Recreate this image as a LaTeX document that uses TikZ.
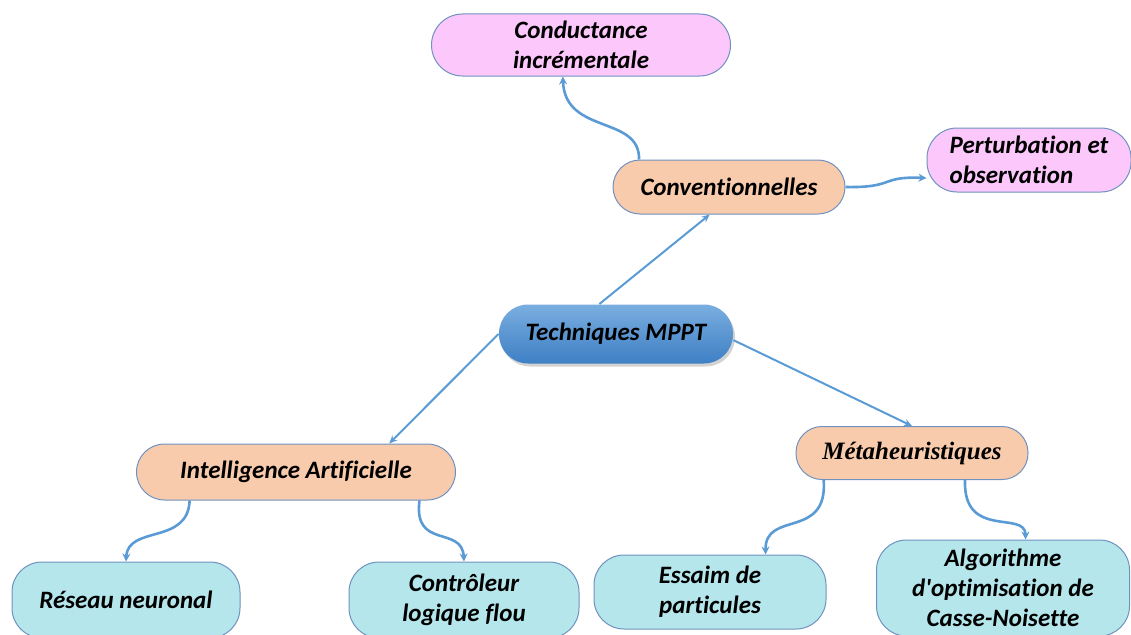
\documentclass[tikz,border=0pt]{standalone}
\usepackage{fontspec}
\setmainfont{Carlito}[Ligatures={TeXOff,CommonOff}]
\newfontfamily\timesbi{Liberation Serif}
\usetikzlibrary{arrows.meta,shadows}
\definecolor{lnk}{HTML}{5B9BD5}
\definecolor{bord}{HTML}{7092BE}
\definecolor{pinkf}{HTML}{FCC8FC}
\definecolor{peachf}{HTML}{F8CBAD}
\definecolor{cyanf}{HTML}{B4E6EC}
\definecolor{techtop}{HTML}{79AEE0}
\definecolor{techbot}{HTML}{3F7FC4}
\tikzset{
  box/.style={draw=bord, line width=1pt, inner sep=0pt, align=center,
    font=\fontsize{25}{30}\selectfont\bfseries\itshape},
  pinkbox/.style={box, fill=pinkf},
  peachbox/.style={box, fill=peachf},
  cyanbox/.style={box, fill=cyanf, rounded corners=30pt},
  arr/.style={draw=lnk, line width=2.6pt, -{Stealth[length=8pt,width=8pt]}},
  sarr/.style={draw=lnk, line width=2pt, -{Stealth[length=8pt,width=7pt]}},
}
\begin{document}
\begin{tikzpicture}[x=1pt,y=-1pt]
\useasboundingbox (0,0) rectangle (1131,634);
\clip (0,0) rectangle (1131,634);
\node[pinkbox, minimum width=299pt, minimum height=62pt, rounded corners=31pt] (conduct) at (581,45) {Conductance\\incrémentale};
\node[pinkbox, minimum width=204pt, minimum height=64pt, rounded corners=30pt, align=left] (perturb) at (1029,160) {Perturbation et\\observation};
\node[peachbox, minimum width=232pt, minimum height=54pt, rounded corners=27pt] (conv) at (729,187) {Conventionnelles};
\node[box, draw=none, minimum width=234pt, minimum height=59pt, rounded corners=29pt,
  top color=techtop, bottom color=techbot, drop shadow={opacity=0.35, shadow xshift=2pt, shadow yshift=-3pt}] (tech) at (616,334) {Techniques MPPT};
\node[peachbox, minimum width=319pt, minimum height=56pt, rounded corners=28pt] (ia) at (296,472) {Intelligence Artificielle};
\node[peachbox, minimum width=232pt, minimum height=53pt, rounded corners=26pt, font=\fontsize{25}{30}\selectfont\timesbi\bfseries\itshape] (meta) at (912,453) {Métaheuristiques};
\node[cyanbox, minimum width=228pt, minimum height=76pt] (reseau) at (126,600) {Réseau neuronal};
\node[cyanbox, minimum width=230pt, minimum height=76pt] (ctrl) at (464,600) {Contrôleur\\logique flou};
\node[cyanbox, minimum width=232pt, minimum height=74pt] (essaim) at (710,592) {Essaim de\\particules};
\node[cyanbox, minimum width=253pt, minimum height=96pt] (algo) at (1003,588) {Algorithme\\d'optimisation de\\Casse-Noisette};

\draw[sarr] (tech.119) -- (conv.235);
\draw[sarr] (tech.west) -- (ia.17);
\draw[sarr] (tech.-3) -- (meta.north);
\draw[arr] (conv.163) .. controls (640,115) and (565,135) .. (conduct.240);
\draw[arr] (conv.east) .. controls (895,188) and (880,176) .. (perturb.190);
\draw[arr] (ia.195) .. controls (188,545) and (128,525) .. (reseau.north);
\draw[arr] (ia.-13) .. controls (413,550) and (462,525) .. (ctrl.north);
\draw[arr] (meta.197.5) .. controls (828,540) and (765,510) .. (essaim.34);
\draw[arr] (meta.-27.5) .. controls (963,540) and (1025,510) .. (algo.65);
\end{tikzpicture}
\end{document}
